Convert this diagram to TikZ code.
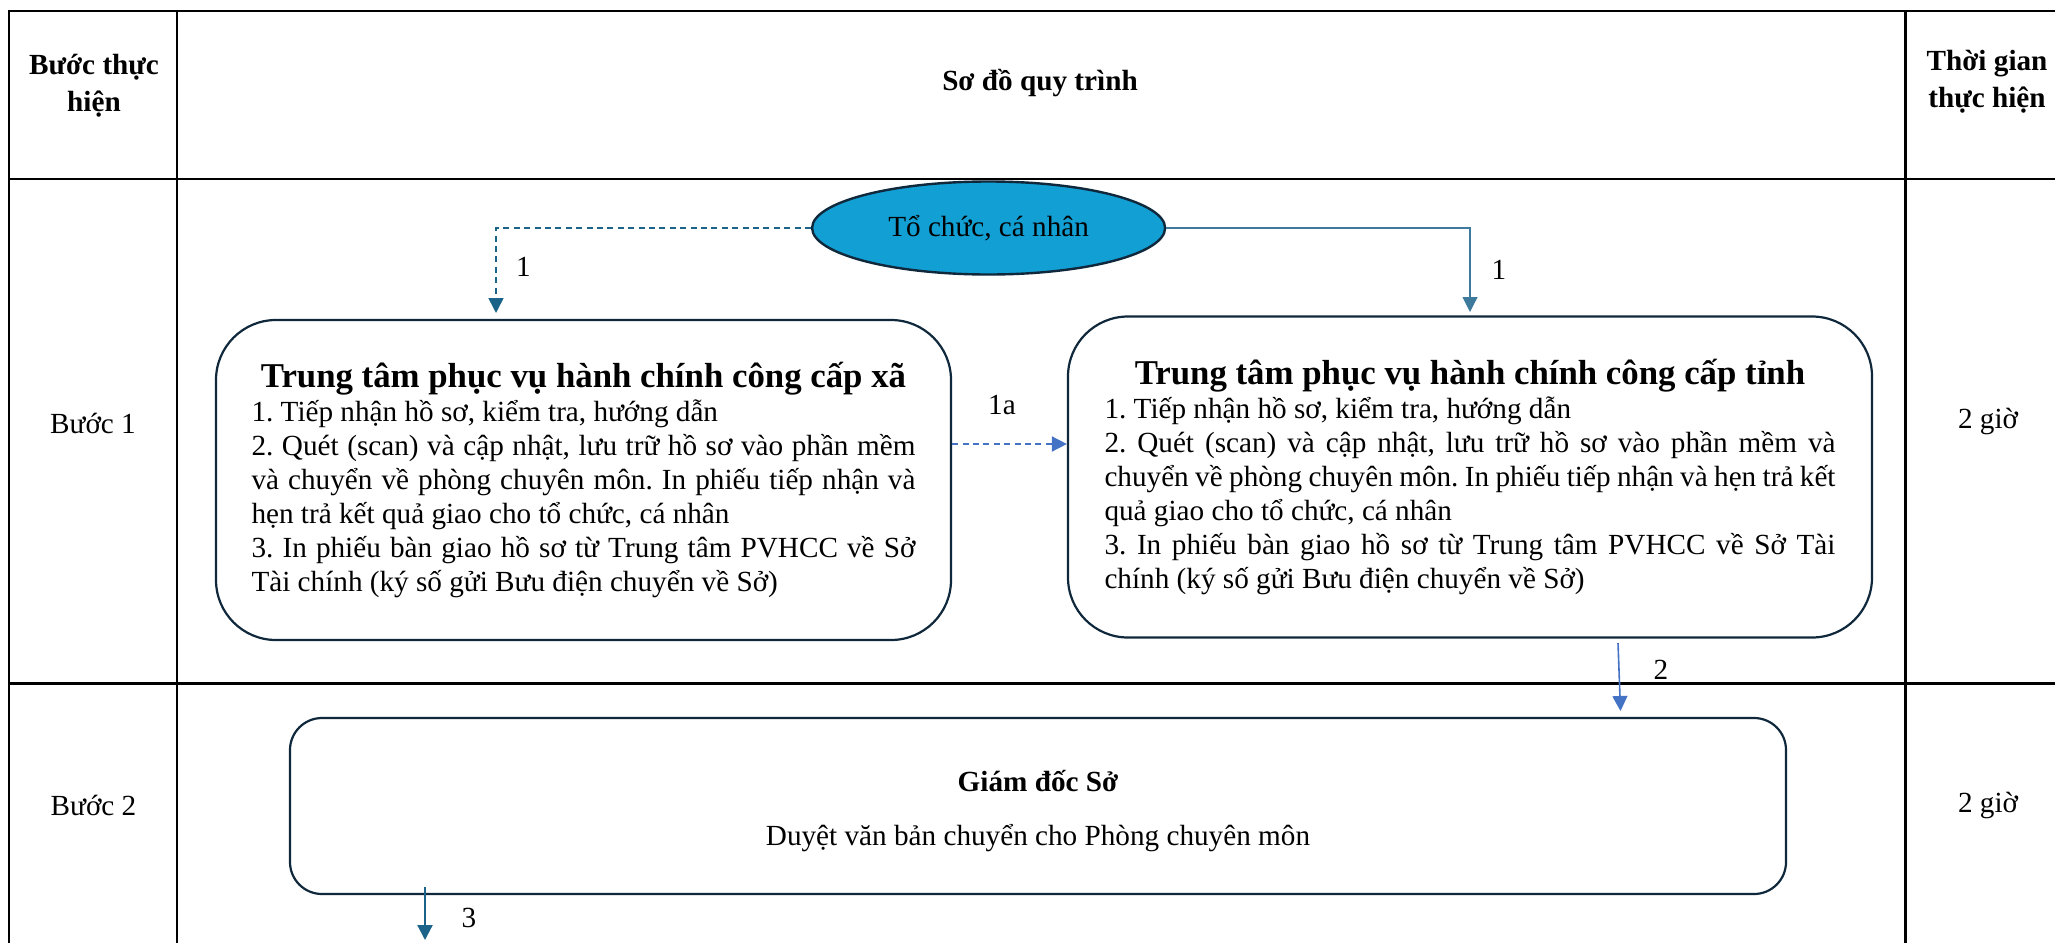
\documentclass[tikz,border=0pt]{standalone}
\usepackage{fontspec}
\setmainfont{Liberation Serif}
\usetikzlibrary{arrows.meta,positioning,shapes.geometric}
\definecolor{flA}{HTML}{1B6389}
\definecolor{flB}{HTML}{4472C4}
\definecolor{flC}{HTML}{129FD4}
\definecolor{flD}{HTML}{10283B}
\frenchspacing

\begin{document}
\begin{tikzpicture}[x=0.5pt,y=-0.5pt,
  grid/.style={line width=1.3pt,black},
  hcell/.style={font=\fontsize{14.6}{18.5}\selectfont\bfseries,align=center},
  cell/.style={font=\fontsize{14.6}{17}\selectfont,align=center},
  unit/.style={draw=flD,line width=1.1pt,rounded corners=30pt,inner sep=0pt,align=justify,font=\fontsize{14.6}{17}\selectfont},
  org/.style={ellipse,draw=flD,line width=1.2pt,fill=flC,minimum width=176.5pt,minimum height=46.5pt,inner sep=0pt,font=\fontsize{14.6}{17}\selectfont},
  flow/.style={-{Triangle[length=7.5pt,width=7.5pt]},line width=0.8pt,flA},
  flowb/.style={flow,flB},
  lbl/.style={font=\fontsize{14.6}{17}\selectfont}]
\useasboundingbox (0,0) rectangle (2055,942);
\clip (0,0) rectangle (2055,942);
% table
\draw[grid] (9,960) -- (9,11) -- (2080,11);
\draw[grid] (9,179) -- (2080,179);
\draw[grid] (9,683.5) -- (2080,683.5);
\draw[grid] (177,11) -- (177,960);
\draw[grid] (1905.5,11) -- (1905.5,960);
\node[hcell] (hstep) at (94,86) {Bước thực\\hiện};
\node[hcell] (hflow) at (1040,83) {Sơ đồ quy trình};
\node[hcell] (htime) at (1987,82) {Thời gian\\thực hiện};
\node[cell] (b1) at (93,423) {Bước 1};
\node[cell] (t1) at (1988,421) {2 giờ};
\node[cell] (b2) at (93.5,805) {Bước 2};
\node[cell] (t2) at (1988,805) {2 giờ};
% flow
\node[org] (org) at (988.6,228) {Tổ chức, cá nhân};
\node[unit,minimum width=367.5pt,minimum height=160pt,text width=332pt] (xa) at (583.5,480) {%
  {\centering\fontsize{17.4}{20}\selectfont\bfseries Trung tâm phục vụ hành chính công cấp xã\par}
  1. Tiếp nhận hồ sơ, kiểm tra, hướng dẫn\par
  2. Quét (scan) và cập nhật, lưu trữ hồ sơ vào phần mềm\linebreak và chuyển về phòng chuyên môn. In phiếu tiếp nhận và\linebreak hẹn trả kết quả giao cho tổ chức, cá nhân\par
  3. In phiếu bàn giao hồ sơ từ Trung tâm PVHCC về Sở\linebreak Tài chính (ký số gửi Bưu điện chuyển về Sở)};
\node[unit,minimum width=402pt,minimum height=160.5pt,text width=365.5pt] (ti) at (1470,477) {%
  {\centering\fontsize{17.4}{20}\selectfont\bfseries Trung tâm phục vụ hành chính công cấp tỉnh\par}
  1. Tiếp nhận hồ sơ, kiểm tra, hướng dẫn\par
  2. Quét (scan) và cập nhật, lưu trữ hồ sơ vào phần mềm và\linebreak chuyển về phòng chuyên môn. In phiếu tiếp nhận và hẹn trả kết\linebreak quả giao cho tổ chức, cá nhân\par
  3. In phiếu bàn giao hồ sơ từ Trung tâm PVHCC về Sở Tài\linebreak chính (ký số gửi Bưu điện chuyển về Sở)};
\node[unit,rounded corners=16pt,align=center,minimum width=748pt,minimum height=88pt,font=\fontsize{14.6}{27}\selectfont] (gd) at (1038,806) {\rule{0pt}{16pt}\textbf{Giám đốc Sở}\\Duyệt văn bản chuyển cho Phòng chuyên môn};
\coordinate (xin) at (496,313);
\coordinate (tin) at (1470,312);
\coordinate (s2) at (1618,643);
\coordinate (e2) at (1620.5,711);
\coordinate (e3) at (425,940);
\draw[flow,dashed,dash pattern=on 3pt off 2.2pt] (org.west) -| (xin);
\draw[flow,line width=0.55pt,flA!85] (org.east) -| (tin);
\draw[flowb,dashed,dash pattern=on 3pt off 2.2pt] ([yshift=18pt]xa.east) coordinate (oa) -- (oa -| ti.west);
\draw[flowb] (s2) -- (e2);
\draw[flow,line width=1.1pt] ([yshift=4pt]gd.south -| e3) -- (e3);
\node[lbl] (l1) at (523.5,267) {1};
\node[lbl] (l2) at (1499,270) {1};
\node[lbl] (l3) at (1002,405) {1a};
\node[lbl] (l4) at (1661,670) {2};
\node[lbl] (l5) at (469,918) {3};
\end{tikzpicture}
\end{document}
